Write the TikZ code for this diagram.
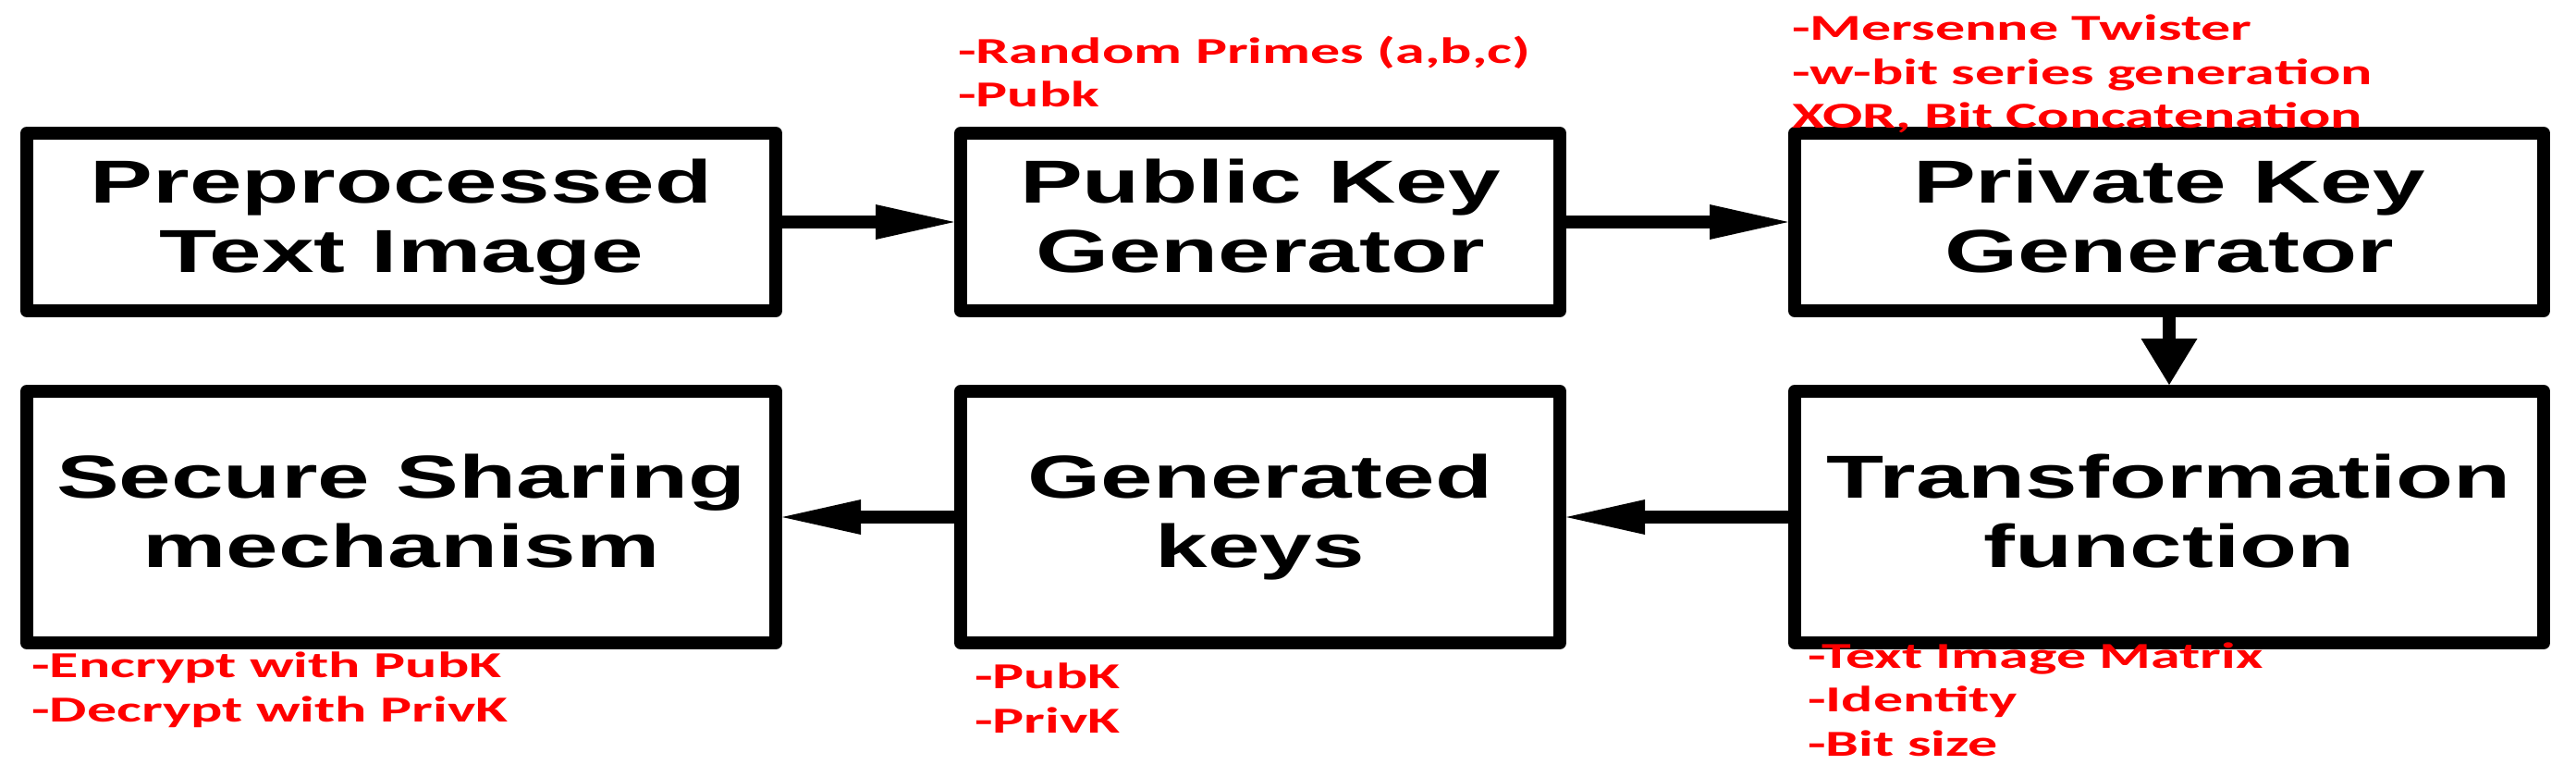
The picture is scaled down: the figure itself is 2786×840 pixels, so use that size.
\documentclass[tikz,border=0pt]{standalone}
\usepackage{fontspec}
\usetikzlibrary{arrows.meta}
\newfontfamily\boxfont[FakeStretch=1.55]{Liberation Sans}
\newfontfamily\notefont[FakeStretch=1.62]{Carlito}
\definecolor{notered}{RGB}{255,0,0}
\begin{document}
\begin{tikzpicture}[x=1pt,y=-1pt,
  stagebox/.style={draw=black, line width=14pt, line join=round, inner sep=0pt,
    align=center, font=\boxfont\bfseries\fontsize{65.6}{75}\selectfont},
  toprow/.style={minimum height=192pt},
  botrow/.style={minimum height=272pt},
  widebox/.style={minimum width=810pt},
  narrowbox/.style={minimum width=648pt},
  harrow/.style={line width=14pt, -{Triangle[length=85pt,width=38pt,line width=0pt]}},
  varrow/.style={line width=14pt, -{Triangle[length=50pt,width=61pt,line width=0pt]}},
  note/.style={text=notered, anchor=base west, align=left, inner sep=0pt,
    font=\notefont\bfseries\fontsize{39.5}{47.5}\selectfont}]
\useasboundingbox (0,0) rectangle (2786,840);
% boxes
\node[stagebox, toprow, widebox]   (b1) at (434,240)  {\vphantom{Pd}Preprocessed\\Text Image\vphantom{g}};
\node[stagebox, toprow, narrowbox] (b2) at (1363,240) {\vphantom{Pd}Public Key\\Generator\vphantom{g}};
\node[stagebox, toprow, widebox]   (b3) at (2346,240) {\vphantom{Pd}Private Key\\Generator\vphantom{g}};
\node[stagebox, botrow, widebox]   (b4) at (434,559)  {\vphantom{Pd}Secure Sharing\\mechanism\vphantom{g}};
\node[stagebox, botrow, narrowbox] (b5) at (1363,559) {\vphantom{Pd}Generated\\keys\vphantom{g}};
\node[stagebox, botrow, widebox]   (b6) at (2346,559) {\vphantom{Pd}Transformation\\function\vphantom{g}};
% connectors
\draw[harrow] (b1) -- (b2);
\draw[harrow] (b2) -- (b3);
\draw[varrow] (b3) -- (b6);
\draw[harrow] (b6) -- (b5);
\draw[harrow] (b5) -- (b4);
% notes (anchored at the baseline of their last line)
\node[note] (n2) at (1036,116) {-Random Primes (a,b,c)\\-Pubk};
\node[note] (n3) at (1938,139) {-Mersenne Twister\\-w-bit series generation\\XOR, Bit Concatenation};
\node[note] (n4) at (34,780)   {-Encrypt with PubK\\-Decrypt with PrivK};
\node[note] (n5) at (1054,792) {-PubK\\-PrivK};
\node[note] (n6) at (1955,817) {-Text Image Matrix\\-Identity\\-Bit size};
\end{tikzpicture}
\end{document}
